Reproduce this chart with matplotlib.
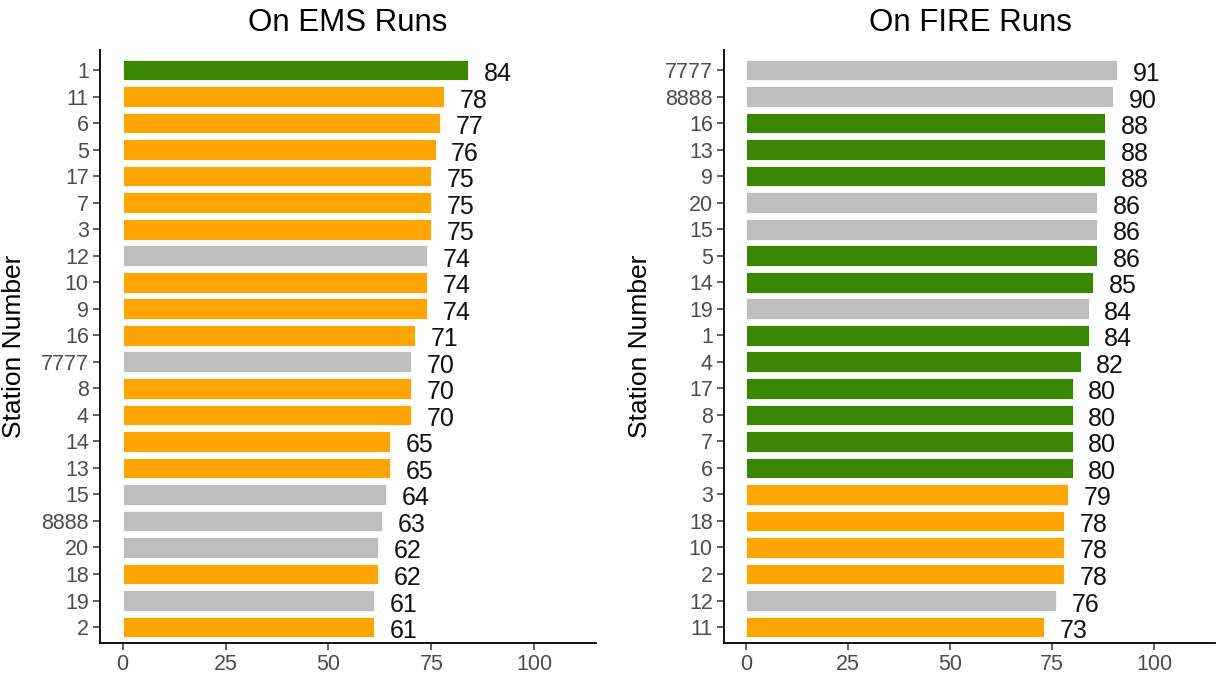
import matplotlib.pyplot as plt

plt.rcParams['font.family'] = ['Liberation Sans', 'DejaVu Sans']

GREEN = "#3a8703"
ORANGE = "#ffa500"
GREY = "#bebebe"

# EMS runs, top to bottom
ems_stations = ["1", "11", "6", "5", "17", "7", "3", "12", "10", "9", "16",
                "7777", "8", "4", "14", "13", "15", "8888", "20", "18", "19", "2"]
ems_values = [84, 78, 77, 76, 75, 75, 75, 74, 74, 74, 71,
              70, 70, 70, 65, 65, 64, 63, 62, 62, 61, 61]
ems_groups = ["g", "o", "o", "o", "o", "o", "o", "x", "o", "o", "o",
              "x", "o", "o", "o", "o", "x", "x", "x", "o", "x", "o"]

# FIRE runs, top to bottom
fire_stations = ["7777", "8888", "16", "13", "9", "20", "15", "5", "14", "19", "1",
                 "4", "17", "8", "7", "6", "3", "18", "10", "2", "12", "11"]
fire_values = [91, 90, 88, 88, 88, 86, 86, 86, 85, 84, 84,
               82, 80, 80, 80, 80, 79, 78, 78, 78, 76, 73]
fire_groups = ["x", "x", "g", "g", "g", "x", "x", "g", "g", "x", "g",
               "g", "g", "g", "g", "g", "o", "o", "o", "o", "x", "o"]

COLORS = {"g": GREEN, "o": ORANGE, "x": GREY}


def draw_panel(ax, stations, values, groups):
    n = len(stations)
    ypos = list(range(n, 0, -1))
    ax.barh(ypos, values, height=0.78, color=[COLORS[g] for g in groups],
            edgecolor="white", linewidth=0.6)
    for y, v in zip(ypos, values):
        ax.text(v + 3.8, y - 0.15, str(v), ha="left", va="center",
                fontsize=18, color="#111111")
    ax.set_yticks(ypos)
    ax.set_yticklabels(stations)
    ax.set_ylim(0.4, n + 0.75)
    ax.set_xlim(-5.5, 115)
    ax.set_xticks([0, 25, 50, 75, 100])
    for s in ["top", "right"]:
        ax.spines[s].set_visible(False)
    for s in ["left", "bottom"]:
        ax.spines[s].set_linewidth(1.3)
        ax.spines[s].set_color("black")
    ax.tick_params(axis="both", labelsize=15.5, labelcolor="#4d4d4d",
                   color="#333333", length=5, width=1.1, pad=3)


fig = plt.figure(figsize=(12.25, 6.83), dpi=100)
ax1 = fig.add_axes([0.0816, 0.0586, 0.405, 0.868])
ax2 = fig.add_axes([0.591, 0.0586, 0.401, 0.868])

draw_panel(ax1, ems_stations, ems_values, ems_groups)
draw_panel(ax2, fire_stations, fire_values, fire_groups)

fig.text(348 / 1225, 1 - 23 / 683, "On EMS Runs", ha="center", va="center", fontsize=22.5)
fig.text(970 / 1225, 1 - 23 / 683, "On FIRE Runs", ha="center", va="center", fontsize=22.5)
fig.text(14 / 1225, 1 - 346 / 683, "Station Number", rotation=90,
         ha="center", va="center", fontsize=19)
fig.text(640 / 1225, 1 - 346 / 683, "Station Number", rotation=90,
         ha="center", va="center", fontsize=19)

fig.savefig("out.png", dpi=100)
